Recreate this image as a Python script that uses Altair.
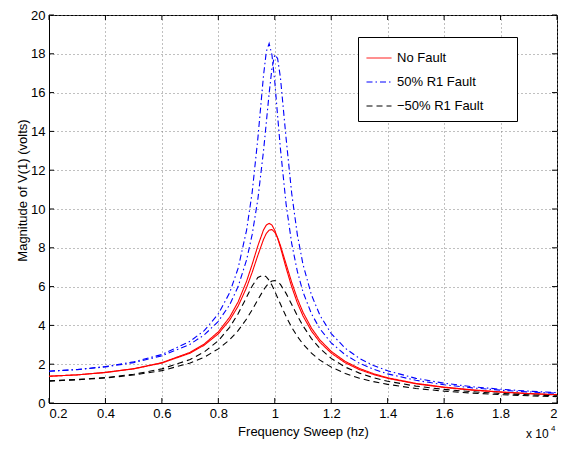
import altair as alt
import pandas as pd

# Frequency (x 10^4 Hz)
freq = [0.2, 0.3, 0.4, 0.5, 0.6, 0.7, 0.75, 0.8, 0.84, 0.87, 0.9, 0.92, 0.94, 0.96,
        0.97, 0.98, 0.99, 1.0, 1.01, 1.02, 1.04, 1.06, 1.08, 1.1, 1.13, 1.16, 1.2,
        1.25, 1.3, 1.35, 1.4, 1.5, 1.6, 1.7, 1.8, 1.9, 2.0]

no_fault_a = [1.38, 1.45, 1.58, 1.77, 2.08, 2.61, 3.04, 3.67, 4.42, 5.21, 6.27, 7.15, 8.10, 8.92,
              9.17, 9.26, 9.17, 8.90, 8.50, 8.02, 6.97, 5.99, 5.16, 4.49, 3.71, 3.13, 2.57,
              2.07, 1.72, 1.47, 1.27, 0.99, 0.80, 0.66, 0.56, 0.48, 0.42]
no_fault_b = [1.38, 1.45, 1.57, 1.76, 2.06, 2.57, 2.98, 3.57, 4.27, 4.99, 5.95, 6.74, 7.61, 8.43,
              8.74, 8.91, 8.94, 8.80, 8.52, 8.12, 7.17, 6.22, 5.38, 4.68, 3.86, 3.25, 2.66,
              2.14, 1.78, 1.51, 1.30, 1.01, 0.82, 0.68, 0.57, 0.49, 0.43]
plus50_a = [1.64, 1.73, 1.88, 2.12, 2.50, 3.18, 3.73, 4.59, 5.68, 6.94, 8.90, 10.87, 13.63, 16.87,
            18.11, 18.53, 17.94, 16.56, 14.81, 13.11, 10.26, 8.22, 6.78, 5.72, 4.60, 3.82, 3.10,
            2.48, 2.05, 1.74, 1.50, 1.17, 0.94, 0.78, 0.66, 0.57, 0.50]
plus50_b = [1.64, 1.72, 1.86, 2.08, 2.43, 3.03, 3.51, 4.21, 5.06, 6.00, 7.37, 8.69, 10.50, 12.98,
            14.46, 15.96, 17.25, 17.95, 17.76, 16.78, 13.66, 10.80, 8.67, 7.14, 5.57, 4.52, 3.58,
            2.82, 2.30, 1.93, 1.66, 1.27, 1.02, 0.84, 0.71, 0.61, 0.53]
minus50_a = [1.14, 1.21, 1.31, 1.48, 1.76, 2.24, 2.63, 3.21, 3.90, 4.60, 5.45, 6.03, 6.47, 6.59,
             6.50, 6.32, 6.07, 5.76, 5.43, 5.10, 4.46, 3.90, 3.43, 3.04, 2.57, 2.21, 1.85,
             1.52, 1.28, 1.10, 0.96, 0.75, 0.61, 0.51, 0.43, 0.37, 0.33]
minus50_b = [1.13, 1.20, 1.29, 1.44, 1.67, 2.06, 2.36, 2.79, 3.26, 3.73, 4.33, 4.81, 5.32, 5.82,
             6.03, 6.19, 6.29, 6.31, 6.25, 6.11, 5.65, 5.08, 4.50, 3.98, 3.32, 2.81, 2.30,
             1.85, 1.54, 1.30, 1.12, 0.87, 0.70, 0.58, 0.49, 0.42, 0.37]

series_names = ["No Fault", "50% R1 Fault", "\u221250% R1 Fault"]
series_colors = ["#ff0000", "#0000ff", "#000000"]
series_dashes = [[1, 0], [6, 3, 1.5, 3], [6, 4]]

x_ticks = [0.2, 0.4, 0.6, 0.8, 1.0, 1.2, 1.4, 1.6, 1.8, 2.0]
y_ticks = [0, 2, 4, 6, 8, 10, 12, 14, 16, 18, 20]
exp_text = ["x 10"]
exp_sup = ["4"]

curves = [
    (series_names[0], "a0", no_fault_a),
    (series_names[0], "b0", no_fault_b),
    (series_names[1], "a1", plus50_a),
    (series_names[1], "b1", plus50_b),
    (series_names[2], "a2", minus50_a),
    (series_names[2], "b2", minus50_b),
]
rows = []
for name, cid, vals in curves:
    for f, v in zip(freq, vals):
        rows.append({"f": f, "v": v, "series": name, "curve": cid})
df = pd.DataFrame(rows)

W, H = 508, 388
FONT = "Liberation Sans"
FS = 13

x_scale = alt.Scale(domain=[0.2, 2.0], nice=False, zero=False)
y_scale = alt.Scale(domain=[0, 20], nice=False)

x_axis = alt.Axis(values=x_ticks, format=".1~f", title="Frequency Sweep (hz)",
                  titleBaseline="middle", titleY=28)
y_axis = alt.Axis(values=y_ticks, title="Magnitude of V(1) (volts)",
                  titleX=-27, titleY=175, titleBaseline="middle", titleAngle=-90)

# trailing no-break spaces (kept by a zero-width end mark) widen the legend box
leg = alt.Legend(
    title=None, orient="none", legendX=309, legendY=22, direction="vertical",
    symbolType="stroke", symbolSize=625, symbolStrokeWidth=1,
    labelFont=FONT, labelFontSize=FS, labelColor="black", labelOffset=5,
    labelExpr="datum.label + '\u00a0\u00a0\u00a0\u00a0\u00a0\u00a0\u00a0\u200b'",
    padding=8, strokeColor="black", fillColor="white", rowPadding=4,
    cornerRadius=0,
)

lines = alt.Chart(df).mark_line(strokeWidth=1.1).encode(
    x=alt.X("f:Q", scale=x_scale, axis=x_axis),
    y=alt.Y("v:Q", scale=y_scale, axis=y_axis),
    color=alt.Color("series:N", scale=alt.Scale(domain=series_names, range=series_colors), legend=leg),
    strokeDash=alt.StrokeDash("series:N", scale=alt.Scale(domain=series_names, range=series_dashes), legend=leg),
    detail="curve:N",
)

xt = pd.DataFrame({"f": x_ticks})
yt = pd.DataFrame({"v": y_ticks})
tick_bottom = alt.Chart(xt).mark_rule(color="black", strokeWidth=1).encode(
    x=alt.X("f:Q", scale=x_scale, axis=x_axis), y=alt.value(H), y2=alt.value(H - 5))
tick_top = alt.Chart(xt).mark_rule(color="black", strokeWidth=1).encode(
    x=alt.X("f:Q", scale=x_scale, axis=x_axis), y=alt.value(0), y2=alt.value(5))
tick_left = alt.Chart(yt).mark_rule(color="black", strokeWidth=1).encode(
    y=alt.Y("v:Q", scale=y_scale, axis=y_axis), x=alt.value(0), x2=alt.value(5))
tick_right = alt.Chart(yt).mark_rule(color="black", strokeWidth=1).encode(
    y=alt.Y("v:Q", scale=y_scale, axis=y_axis), x=alt.value(W), x2=alt.value(W - 5))

exp1 = alt.Chart(pd.DataFrame({"t": exp_text})).mark_text(
    font=FONT, fontSize=12, align="left", baseline="alphabetic", color="black"
).encode(text="t:N", x=alt.value(477), y=alt.value(423))
exp2 = alt.Chart(pd.DataFrame({"t": exp_sup})).mark_text(
    font=FONT, fontSize=8, align="left", baseline="alphabetic", color="black"
).encode(text="t:N", x=alt.value(502), y=alt.value(416))

chart = alt.layer(lines, tick_bottom, tick_top, tick_left, tick_right, exp1, exp2).properties(
    width=W, height=H,
    padding={"left": 41, "top": 7, "right": 6, "bottom": 39},
    autosize=alt.AutoSizeParams(type="none"),
).configure_view(
    stroke="black", strokeWidth=1
).configure_axis(
    grid=True, gridColor="#808080", gridDash=[1, 3], gridWidth=1, gridOpacity=1,
    domainColor="black", domainWidth=1, ticks=False,
    labelFont=FONT, labelFontSize=FS, labelColor="black", labelPadding=4,
    titleFont=FONT, titleFontSize=FS, titleColor="black", titleFontWeight="normal",
)

chart.save("out.html", embed_options={"renderer": "svg", "actions": False})
